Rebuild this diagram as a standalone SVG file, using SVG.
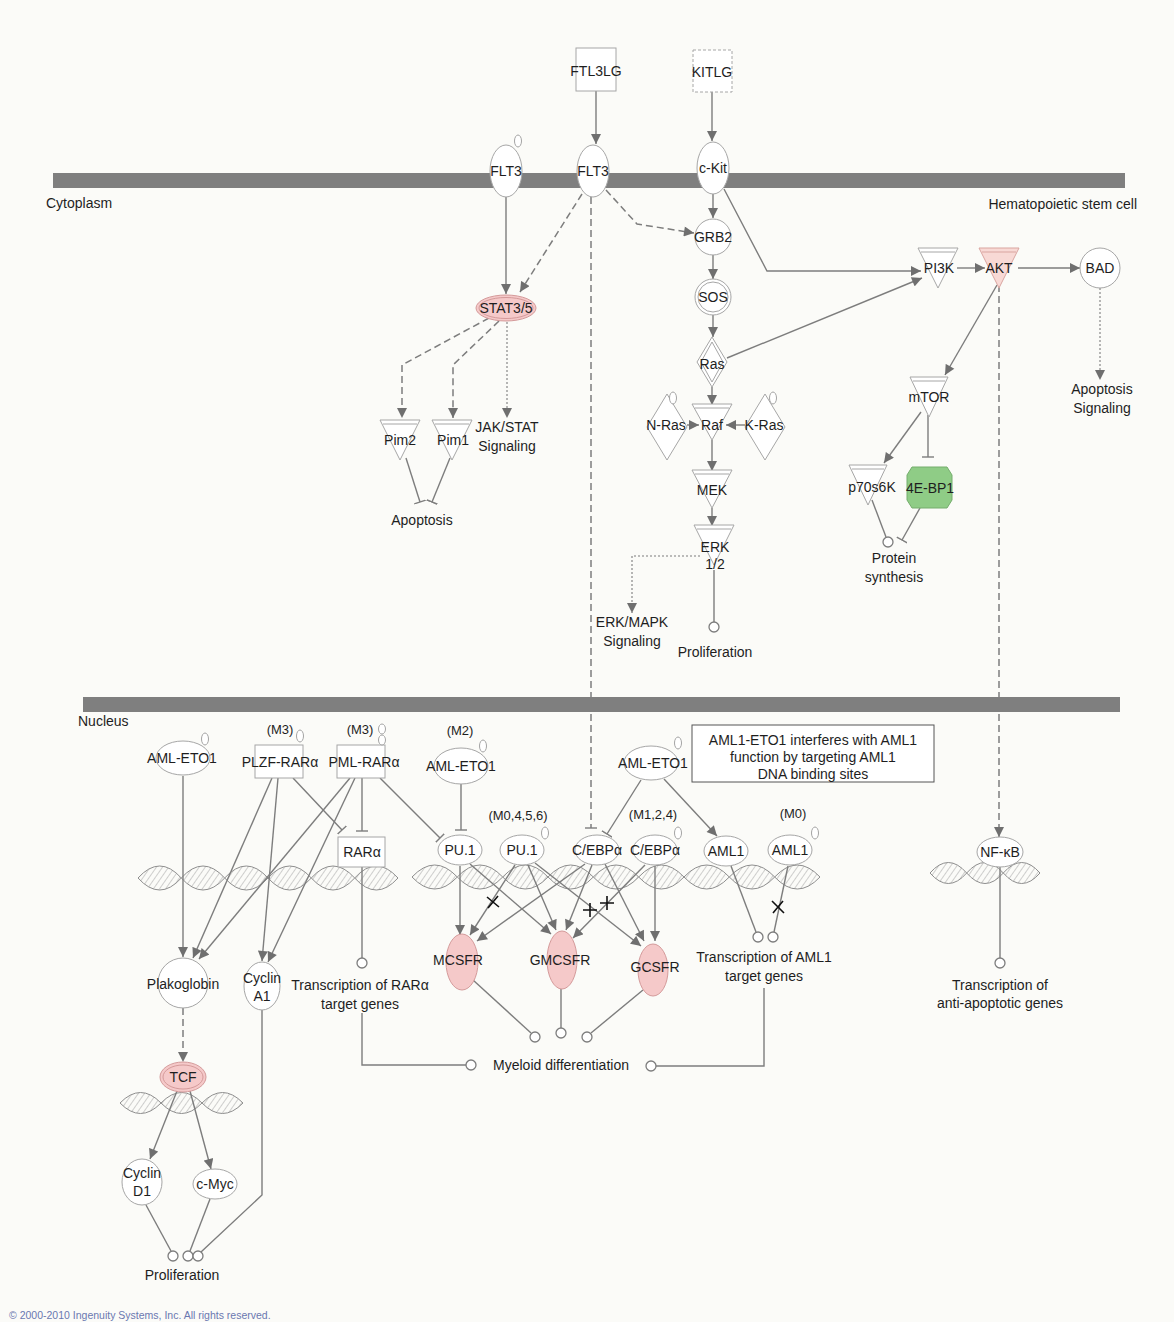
<svg xmlns="http://www.w3.org/2000/svg" width="1174" height="1322" viewBox="0 0 1174 1322">
<style>
  .t{font-family:"Liberation Sans",Arial,sans-serif;font-size:14px;fill:#1e1e1e;text-anchor:middle}
  .s{font-size:13px}
  .l{text-anchor:start}
  .e{text-anchor:end}
  .n{fill:#fff;stroke:#a6a6a6;stroke-width:1}
  .pk{fill:#f5c9c9;stroke:#d49a9a;stroke-width:1}
  .pk2{fill:#f8d9d5;stroke:#d9a5a0;stroke-width:1}
  .gr{fill:#8fcc86;stroke:#74ad6c;stroke-width:1}
  .bar{fill:#7f7f7f}
  .c{fill:none;stroke:#7d7d7d;stroke-width:1.4}
  .d{stroke-dasharray:7 4;stroke-width:1.5}
  .o{stroke-dasharray:2 2;stroke-width:1.1}
  .a{marker-end:url(#arr)}
  .i{marker-end:url(#tee)}
  .end{fill:#fff;stroke:#7d7d7d;stroke-width:1.3}
  .lobe{fill:url(#hatch);stroke:#8e8e8e;stroke-width:1}
  .pm{fill:#fff;stroke:#9a9a9a;stroke-width:0.9}
  .x{stroke:#111;stroke-width:1.6}
</style>
<defs>
  <marker id="arr" viewBox="0 0 10 10" refX="10" refY="5" markerWidth="11" markerHeight="10" markerUnits="userSpaceOnUse" orient="auto">
    <path d="M0,0 L10,5 L0,10 z" fill="#6f6f6f"/>
  </marker>
  <marker id="tee" viewBox="0 0 4 12" refX="3" refY="6" markerWidth="4" markerHeight="12" markerUnits="userSpaceOnUse" orient="auto">
    <path d="M3,0 V12" stroke="#7d7d7d" stroke-width="1.4"/>
  </marker>
  <pattern id="hatch" width="5" height="5" patternUnits="userSpaceOnUse" patternTransform="rotate(35)">
    <line x1="0" y1="0" x2="0" y2="5" stroke="#a2a2a2" stroke-width="1"/>
  </pattern>
</defs>

<rect width="1174" height="1322" fill="#fbfbf8"/>

<!-- DNA strands (transcription sites) -->
<g id="dna">
  <path class="lobe" d="M138,878 Q159.7,854 181.3,878 Q159.7,902 138,878Z M181.3,878 Q203,854 224.7,878 Q203,902 181.3,878Z M224.7,878 Q246.3,854 268,878 Q246.3,902 224.7,878Z M268,878 Q289.7,854 311.3,878 Q289.7,902 268,878Z M311.3,878 Q333,854 354.7,878 Q333,902 311.3,878Z M354.7,878 Q376.3,854 398,878 Q376.3,902 354.7,878Z"/>
  <path class="lobe" d="M412,877 Q434.7,853 457.3,877 Q434.7,901 412,877Z M457.3,877 Q480,853 502.7,877 Q480,901 457.3,877Z M502.7,877 Q525.3,853 548,877 Q525.3,901 502.7,877Z M548,877 Q570.7,853 593.3,877 Q570.7,901 548,877Z M593.3,877 Q616,853 638.7,877 Q616,901 593.3,877Z M638.7,877 Q661.3,853 684,877 Q661.3,901 638.7,877Z M684,877 Q706.7,853 729.3,877 Q706.7,901 684,877Z M729.3,877 Q752,853 774.7,877 Q752,901 729.3,877Z M774.7,877 Q797.3,853 820,877 Q797.3,901 774.7,877Z"/>
  <path class="lobe" d="M930,873 Q948.3,852 966.7,873 Q948.3,894 930,873Z M966.7,873 Q985,852 1003.3,873 Q985,894 966.7,873Z M1003.3,873 Q1021.7,852 1040,873 Q1021.7,894 1003.3,873Z"/>
  <path class="lobe" d="M120,1103 Q140.5,1082 161,1103 Q140.5,1124 120,1103Z M161,1103 Q181.5,1082 202,1103 Q181.5,1124 161,1103Z M202,1103 Q222.5,1082 243,1103 Q222.5,1124 202,1103Z"/>
</g>

<!-- connectors -->
<g id="connectors">
  <path class="c a" d="M596,91 V144"/>
  <path class="c a" d="M712,92 V141"/>
  <path class="c a" d="M506,197 V294"/>
  <path class="c d a" d="M582,194 L520,292"/>
  <path class="c d a" d="M606,190 L637,224 L694,233"/>
  <path class="c d i" d="M591,197 V828"/>
  <path class="c a" d="M713,194 V218"/>
  <path class="c a" d="M713,255 V279"/>
  <path class="c a" d="M713,315 V337"/>
  <path class="c a" d="M724,189 L767,271 L921,271"/>
  <path class="c a" d="M727,358 L922,278"/>
  <path class="c a" d="M957,268 L985,268"/>
  <path class="c a" d="M1018,268 L1080,268"/>
  <path class="c o a" d="M1100,288 V380"/>
  <path class="c a" d="M997,285 L945,375"/>
  <path class="c d a" d="M999,285 V837"/>
  <path class="c d a" d="M489,318 L402,365 V418"/>
  <path class="c d a" d="M499,321 L453,365 V418"/>
  <path class="c o a" d="M507,322 V418"/>
  <path class="c i" d="M406,458 L420,502"/>
  <path class="c i" d="M450,458 L432,502"/>
  <path class="c a" d="M712,387 V405"/>
  <path class="c a" d="M687,425 L699,425"/>
  <path class="c a" d="M745,425 L726,425"/>
  <path class="c a" d="M712,440 V471"/>
  <path class="c a" d="M712,508 V526"/>
  <path class="c o a" d="M700,556 L632,556 V613"/>
  <path class="c" d="M714,570 V622"/>
  <circle class="end" cx="714" cy="627" r="5"/>
  <path class="c a" d="M921,412 L884,463"/>
  <path class="c i" d="M928,415 V457"/>
  <path class="c" d="M872,500 L886,537"/>
  <circle class="end" cx="888" cy="542" r="5"/>
  <path class="c i" d="M920,508 L902,540"/>

  <path class="c a" d="M183,776 V957"/>
  <path class="c a" d="M272,778 L193,958"/>
  <path class="c a" d="M278,778 L262,961"/>
  <path class="c i" d="M293,778 L342,830"/>
  <path class="c a" d="M350,778 L199,959"/>
  <path class="c a" d="M355,778 L268,962"/>
  <path class="c i" d="M362,778 V831"/>
  <path class="c i" d="M380,778 L440,838"/>
  <path class="c i" d="M461,784 V830"/>
  <path class="c i" d="M641,780 L607,834"/>
  <path class="c a" d="M664,779 L717,836"/>
  <path class="c" d="M362,867 V958"/>
  <circle class="end" cx="362" cy="963" r="5"/>

  <path class="c a" d="M460,866 V935"/>
  <path class="c a" d="M515,865 L470,935"/>
  <path class="c a" d="M585,864 L477,941"/>
  <path class="c a" d="M470,864 L551,934"/>
  <path class="c a" d="M528,865 L556,930"/>
  <path class="c a" d="M592,865 L566,930"/>
  <path class="c a" d="M645,865 L573,938"/>
  <path class="c a" d="M535,863 L641,946"/>
  <path class="c a" d="M605,864 L644,941"/>
  <path class="c a" d="M655,866 V941"/>
  <path class="c" d="M731,866 L756,932"/>
  <circle class="end" cx="758" cy="937" r="5"/>
  <path class="c" d="M788,866 L774,932"/>
  <circle class="end" cx="773" cy="937" r="5"/>

  <path class="c" d="M473,980 L531,1033"/>
  <circle class="end" cx="535" cy="1037" r="5"/>
  <path class="c" d="M561,989 V1028"/>
  <circle class="end" cx="561" cy="1033" r="5"/>
  <path class="c" d="M643,990 L591,1033"/>
  <circle class="end" cx="587" cy="1037" r="5"/>
  <path class="c" d="M362,1013 V1065 H466"/>
  <circle class="end" cx="471" cy="1065" r="5"/>
  <path class="c" d="M764,988 V1066 H656"/>
  <circle class="end" cx="651" cy="1066" r="5"/>

  <path class="c d a" d="M183,1008 V1062"/>
  <path class="c a" d="M177,1091 L150,1159"/>
  <path class="c a" d="M190,1091 L211,1169"/>
  <path class="c" d="M146,1205 L171,1251"/>
  <circle class="end" cx="173" cy="1256" r="5"/>
  <path class="c" d="M210,1199 L190,1251"/>
  <circle class="end" cx="188" cy="1256" r="5"/>
  <path class="c" d="M262,1010 V1195 L201,1252"/>
  <circle class="end" cx="198" cy="1256" r="5"/>
  <path class="c" d="M1000,867 V958"/>
  <circle class="end" cx="1000" cy="963" r="5"/>

  <!-- crossed (not affected) relationships -->
  <path class="x" d="M487,897 L499,907 M498,896 L488,908"/>
  <path class="x" d="M590,903 V917 M583,910 H597"/>
  <path class="x" d="M607,896 V910 M600,903 H614"/>
  <path class="x" d="M772,901 L784,913 M783,901 L773,913"/>
</g>

<!-- membranes -->
<rect class="bar" x="53" y="173" width="1072" height="15"/>
<rect class="bar" x="83" y="697" width="1037" height="15"/>
<text class="t l" x="46" y="208">Cytoplasm</text>
<text class="t e" x="1137" y="209">Hematopoietic stem cell</text>
<text class="t l" x="78" y="726">Nucleus</text>

<!-- nodes: cytoplasm -->
<g id="FTL3LG"><rect class="n" x="576" y="48" width="40" height="43"/><text class="t" x="596" y="76">FTL3LG</text></g>
<g id="KITLG"><rect class="n" x="693" y="50" width="39" height="42" stroke-dasharray="3 2"/><text class="t" x="712" y="77">KITLG</text></g>
<g id="FLT3-a"><ellipse class="n" cx="506" cy="171" rx="16" ry="26"/><ellipse class="pm" cx="518" cy="141" rx="3.5" ry="6"/><text class="t" x="506" y="176">FLT3</text></g>
<g id="FLT3-b"><ellipse class="n" cx="593" cy="171" rx="16" ry="26"/><text class="t" x="593" y="176">FLT3</text></g>
<g id="c-Kit"><ellipse class="n" cx="713" cy="168" rx="16" ry="26"/><text class="t" x="713" y="173">c-Kit</text></g>
<g id="GRB2"><circle class="n" cx="713" cy="237" r="18"/><text class="t" x="713" y="242">GRB2</text></g>
<g id="SOS"><circle class="n" cx="713" cy="297" r="18"/><circle class="n" cx="713" cy="297" r="15"/><text class="t" x="713" y="302">SOS</text></g>
<g id="STAT3-5"><ellipse class="pk" cx="506" cy="308" rx="30" ry="13"/><ellipse fill="none" stroke="#d49a9a" cx="506" cy="308" rx="27" ry="10.5"/><text class="t" x="506" y="313">STAT3/5</text></g>
<g id="Pim2"><polygon class="n" points="380,420 420,420 400,460"/><line x1="383" y1="424" x2="417" y2="424" stroke="#a6a6a6"/><text class="t" x="400" y="445">Pim2</text></g>
<g id="Pim1"><polygon class="n" points="432,420 472,420 452,460"/><line x1="435" y1="424" x2="469" y2="424" stroke="#a6a6a6"/><text class="t" x="453" y="445">Pim1</text></g>
<g id="JAK-STAT"><text class="t" x="507" y="432">JAK/STAT</text><text class="t" x="507" y="451">Signaling</text></g>
<g id="Apoptosis"><text class="t" x="422" y="525">Apoptosis</text></g>
<g id="Ras"><polygon class="n" points="712,337 727,362 712,387 697,362"/><polygon fill="none" stroke="#a6a6a6" points="712,342 723,362 712,382 701,362"/><text class="t" x="712" y="369">Ras</text></g>
<g id="N-Ras"><polygon class="n" points="667,394 687,427 667,460 647,427"/><ellipse class="pm" cx="673" cy="398" rx="3.5" ry="6"/><text class="t" x="666" y="430">N-Ras</text></g>
<g id="K-Ras"><polygon class="n" points="765,394 785,427 765,460 745,427"/><ellipse class="pm" cx="773" cy="398" rx="3.5" ry="6"/><text class="t" x="764" y="430">K-Ras</text></g>
<g id="Raf"><polygon class="n" points="692,404 732,404 712,440"/><line x1="695" y1="408" x2="729" y2="408" stroke="#a6a6a6"/><text class="t" x="712" y="430">Raf</text></g>
<g id="MEK"><polygon class="n" points="692,470 732,470 712,508"/><line x1="695" y1="474" x2="729" y2="474" stroke="#a6a6a6"/><text class="t" x="712" y="495">MEK</text></g>
<g id="ERK"><polygon class="n" points="694,525 734,525 714,565"/><line x1="697" y1="529" x2="731" y2="529" stroke="#a6a6a6"/><text class="t" x="715" y="552">ERK</text><text class="t" x="715" y="569">1/2</text></g>
<g id="ERK-MAPK"><text class="t" x="632" y="627">ERK/MAPK</text><text class="t" x="632" y="646">Signaling</text></g>
<g id="Proliferation-a"><text class="t" x="715" y="657">Proliferation</text></g>
<g id="PI3K"><polygon class="n" points="918,248 958,248 938,288"/><line x1="921" y1="252" x2="955" y2="252" stroke="#a6a6a6"/><text class="t" x="939" y="273">PI3K</text></g>
<g id="AKT"><polygon class="pk2" points="979,248 1019,248 999,288"/><line x1="982" y1="252" x2="1016" y2="252" stroke="#d9a5a0"/><text class="t" x="999" y="273">AKT</text></g>
<g id="BAD"><circle class="n" cx="1100" cy="268" r="20"/><text class="t" x="1100" y="273">BAD</text></g>
<g id="Apoptosis-signaling"><text class="t" x="1102" y="394">Apoptosis</text><text class="t" x="1102" y="413">Signaling</text></g>
<g id="mTOR"><polygon class="n" points="910,377 948,377 929,417"/><line x1="913" y1="381" x2="945" y2="381" stroke="#a6a6a6"/><text class="t" x="929" y="402">mTOR</text></g>
<g id="p70S6K"><polygon class="n" points="849,465 887,465 868,505"/><line x1="852" y1="469" x2="884" y2="469" stroke="#a6a6a6"/><text class="t" x="872" y="492">p70s6K</text></g>
<g id="4E-BP1"><polygon class="gr" points="912,467 947,467 952,475 952,500 947,508 912,508 907,500 907,475"/><text class="t" x="930" y="493">4E-BP1</text></g>
<g id="Protein-synthesis"><text class="t" x="894" y="563">Protein</text><text class="t" x="894" y="582">synthesis</text></g>

<!-- nodes: nucleus -->
<g id="AML-ETO1-a"><ellipse class="n" cx="183" cy="758" rx="27" ry="17"/><ellipse class="pm" cx="205" cy="739" rx="3.5" ry="6"/><text class="t" x="182" y="763">AML-ETO1</text></g>
<g id="PLZF-RARa"><rect class="n" x="255" y="745" width="48" height="33"/><ellipse class="pm" cx="300" cy="736" rx="3.5" ry="6"/><text class="t s" x="280" y="734">(M3)</text><text class="t" x="280" y="767">PLZF-RARα</text></g>
<g id="PML-RARa"><rect class="n" x="337" y="745" width="48" height="33"/><ellipse class="pm" cx="382" cy="729" rx="3.5" ry="5"/><ellipse class="pm" cx="382" cy="740" rx="3.5" ry="5"/><text class="t s" x="360" y="734">(M3)</text><text class="t" x="364" y="767">PML-RARα</text></g>
<g id="AML-ETO1-b"><ellipse class="n" cx="461" cy="766" rx="27" ry="18"/><ellipse class="pm" cx="483" cy="746" rx="3.5" ry="6"/><text class="t s" x="460" y="735">(M2)</text><text class="t" x="461" y="771">AML-ETO1</text></g>
<g id="AML-ETO1-c"><ellipse class="n" cx="651" cy="763" rx="27" ry="17"/><ellipse class="pm" cx="678" cy="743" rx="3.5" ry="6"/><text class="t" x="653" y="768">AML-ETO1</text></g>
<g id="note"><rect x="692" y="725" width="242" height="57" fill="#fff" stroke="#555" stroke-width="1"/><text class="t" x="813" y="745">AML1-ETO1 interferes with AML1</text><text class="t" x="813" y="762">function by targeting AML1</text><text class="t" x="813" y="779">DNA binding sites</text></g>
<g id="RARa"><rect class="n" x="338" y="837" width="47" height="30"/><text class="t" x="362" y="857">RARα</text></g>
<g id="PU.1-a"><ellipse class="n" cx="460" cy="850" rx="22" ry="15"/><text class="t" x="460" y="855">PU.1</text></g>
<g id="PU.1-b"><ellipse class="n" cx="522" cy="850" rx="22" ry="15"/><ellipse class="pm" cx="545" cy="833" rx="3.5" ry="6"/><text class="t s" x="518" y="820">(M0,4,5,6)</text><text class="t" x="522" y="855">PU.1</text></g>
<g id="CEBPa-a"><ellipse class="n" cx="597" cy="850" rx="22" ry="15"/><text class="t" x="597" y="855">C/EBPα</text></g>
<g id="CEBPa-b"><ellipse class="n" cx="655" cy="850" rx="22" ry="15"/><ellipse class="pm" cx="678" cy="833" rx="3.5" ry="6"/><text class="t s" x="653" y="819">(M1,2,4)</text><text class="t" x="655" y="855">C/EBPα</text></g>
<g id="AML1-a"><ellipse class="n" cx="726" cy="851" rx="22" ry="15"/><text class="t" x="726" y="856">AML1</text></g>
<g id="AML1-b"><ellipse class="n" cx="790" cy="850" rx="22" ry="15"/><ellipse class="pm" cx="815" cy="833" rx="3.5" ry="6"/><text class="t s" x="793" y="818">(M0)</text><text class="t" x="790" y="855">AML1</text></g>
<g id="MCSFR"><ellipse class="pk" cx="462" cy="962" rx="16" ry="28"/><text class="t" x="458" y="965">MCSFR</text></g>
<g id="GMCSFR"><ellipse class="pk" cx="562" cy="960" rx="15" ry="29"/><text class="t" x="560" y="965">GMCSFR</text></g>
<g id="GCSFR"><ellipse class="pk" cx="653" cy="970" rx="15" ry="26"/><text class="t" x="655" y="972">GCSFR</text></g>
<g id="AML1-targets"><text class="t" x="764" y="962">Transcription of AML1</text><text class="t" x="764" y="981">target genes</text></g>
<g id="Plakoglobin"><circle class="n" cx="183" cy="983" r="25"/><text class="t" x="183" y="989">Plakoglobin</text></g>
<g id="CyclinA1"><ellipse class="n" cx="262" cy="986" rx="18" ry="24"/><text class="t" x="262" y="983">Cyclin</text><text class="t" x="262" y="1001">A1</text></g>
<g id="RARa-targets"><text class="t" x="360" y="990">Transcription of RARα</text><text class="t" x="360" y="1009">target genes</text></g>
<g id="Myeloid"><text class="t" x="561" y="1070">Myeloid differentiation</text></g>
<g id="NF-kB"><ellipse class="n" cx="1000" cy="852" rx="23" ry="15"/><text class="t" x="1000" y="857">NF-κB</text></g>
<g id="anti-apoptotic"><text class="t" x="1000" y="990">Transcription of</text><text class="t" x="1000" y="1008">anti-apoptotic genes</text></g>
<g id="TCF"><ellipse class="pk" cx="183" cy="1077" rx="23" ry="15"/><ellipse fill="none" stroke="#d49a9a" cx="183" cy="1077" rx="20" ry="12"/><text class="t" x="183" y="1082">TCF</text></g>
<g id="CyclinD1"><ellipse class="n" cx="142" cy="1182" rx="20" ry="23"/><text class="t" x="142" y="1178">Cyclin</text><text class="t" x="142" y="1196">D1</text></g>
<g id="c-Myc"><ellipse class="n" cx="215" cy="1184" rx="22" ry="15"/><text class="t" x="215" y="1189">c-Myc</text></g>
<g id="Proliferation-b"><text class="t" x="182" y="1280">Proliferation</text></g>

<text x="9" y="1319" font-family="'Liberation Sans',Arial,sans-serif" font-size="10.5" fill="#6a78b0">© 2000-2010 Ingenuity Systems, Inc. All rights reserved.</text>
</svg>
